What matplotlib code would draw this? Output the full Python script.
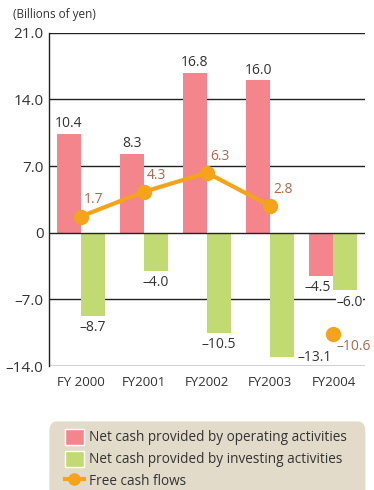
import numpy as np
import matplotlib.pyplot as plt
from matplotlib.patches import FancyBboxPatch, Patch
from matplotlib.lines import Line2D

# --- Data ---
years = ["FY 2000", "FY2001", "FY2002", "FY2003", "FY2004"]
operating = [10.4, 8.3, 16.8, 16.0, -4.5]
investing = [-8.7, -4.0, -10.5, -13.1, -6.0]
free_cash = [1.7, 4.3, 6.3, 2.8, -10.6]
yticks = [-14.0, -7.0, 0.0, 7.0, 14.0, 21.0]
ytick_labels = ["\u201314.0", "\u20137.0", "0", "7.0", "14.0", "21.0"]

# --- Style ---
PINK = "#f4858c"
GREEN = "#c2da72"
ORANGE = "#f5a31a"
FCF_TEXT = "#b0664e"
TEXT = "#333333"
BEIGE = "#e2dbca"

plt.rcParams['font.family'] = ['Open Sans', 'DejaVu Sans']


def fmt(v):
    return f"{v:.1f}".replace("-", "\u2013")


fig = plt.figure(figsize=(3.74, 4.9), dpi=100)
ax = fig.add_axes([0.131, 0.253, 0.845, 0.68])

x = np.arange(len(years))
w = 0.38
ax.bar(x - w / 2, operating, w, color=PINK, zorder=2)
ax.bar(x + w / 2, investing, w, color=GREEN, zorder=2)

# Free cash flow line (first four connected, last isolated)
ax.plot(x[:4], free_cash[:4], color=ORANGE, lw=3, marker="o", ms=10, zorder=4)
ax.plot(x[4], free_cash[4], color=ORANGE, marker="o", ms=10, zorder=4)

# Value labels
white_bg = dict(facecolor="white", edgecolor="none", pad=0.5)
for i, v in enumerate(operating):
    if v >= 0:
        ax.annotate(fmt(v), (x[i] - w / 2, v), xytext=(0, 2), textcoords="offset points",
                    ha="center", va="bottom", fontsize=10, color=TEXT)
    else:
        ax.annotate(fmt(v), (x[i] - w / 2, v), xytext=(-3, -3), textcoords="offset points",
                    ha="center", va="top", fontsize=10, color=TEXT)
for i, v in enumerate(investing):
    if i == 3:
        # label sits beside the bar end
        ax.annotate(fmt(v), (x[i] + w, v), xytext=(2, 0), textcoords="offset points",
                    ha="left", va="center", fontsize=10, color=TEXT)
    elif i == 4:
        ax.annotate(fmt(v), (x[i] + w / 2, v), xytext=(3, -4), textcoords="offset points",
                    ha="center", va="top", fontsize=10, color=TEXT, bbox=white_bg, zorder=5)
    else:
        ax.annotate(fmt(v), (x[i] + w / 2, v), xytext=(0, -3), textcoords="offset points",
                    ha="center", va="top", fontsize=10, color=TEXT)
for i, v in enumerate(free_cash[:4]):
    ax.annotate(fmt(v), (x[i], v), xytext=(2, 12), textcoords="offset points",
                ha="left", va="center", fontsize=10, color=FCF_TEXT)
ax.annotate(fmt(free_cash[4]), (x[4], free_cash[4]), xytext=(2, -9), textcoords="offset points",
            ha="left", va="center", fontsize=10, color=FCF_TEXT)

# Axes
ax.set_xlim(-0.5, 4.5)
ax.set_ylim(-14, 21)
ax.set_yticks(yticks)
ax.set_yticklabels(ytick_labels, fontsize=11, color=TEXT)
ax.set_xticks(x)
ax.set_xticklabels(years, fontsize=9.5, color=TEXT)
ax.tick_params(length=0, pad=4)
ax.tick_params(axis="x", pad=7)
for yv in yticks:
    ax.axhline(yv, color="#222222", lw=1, zorder=1 if yv != 0 else 3)
for s in ["top", "right", "bottom"]:
    ax.spines[s].set_visible(False)
ax.spines["left"].set_color("#222222")
ax.spines["left"].set_linewidth(1)

fig.text(0.035, 0.958, "(Billions of yen)", fontsize=8.5, color=TEXT, ha="left", va="bottom")

# Legend box
box = FancyBboxPatch((0.132, -0.05), 0.845, 0.19, boxstyle="round,pad=0,rounding_size=0.02",
                     transform=fig.transFigure, facecolor=BEIGE, edgecolor="none")
fig.patches.append(box)
handles = [
    Patch(facecolor=PINK, edgecolor="white", lw=1),
    Patch(facecolor=GREEN, edgecolor="white", lw=1),
    Line2D([0], [0], color=ORANGE, lw=3, marker="o", ms=8),
]
labels = ["Net cash provided by operating activities",
          "Net cash provided by investing activities",
          "Free cash flows"]
fig.legend(handles, labels, loc="upper left", bbox_to_anchor=(0.155, 0.139), frameon=False,
           fontsize=9.8, labelcolor=TEXT, handlelength=1.4, handleheight=1.45,
           handletextpad=0.4, labelspacing=0.4, borderpad=0)

fig.savefig("out.png", dpi=100)
